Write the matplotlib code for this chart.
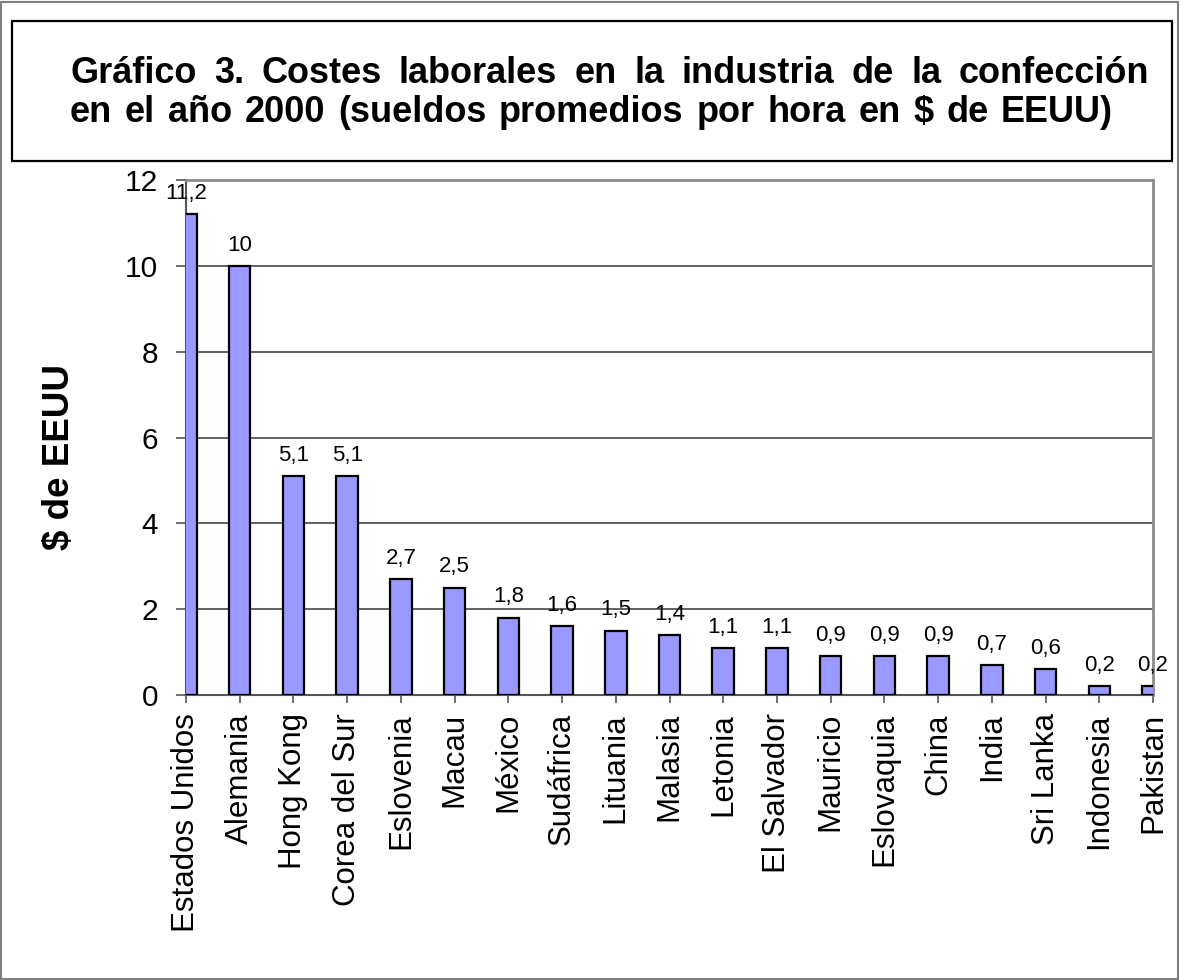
import matplotlib
matplotlib.use("Agg")
import matplotlib.pyplot as plt
from matplotlib.patches import Rectangle

plt.rcParams['font.family'] = ['Liberation Sans', 'DejaVu Sans']

# data
countries = ["Estados Unidos", "Alemania", "Hong Kong", "Corea del Sur", "Eslovenia",
             "Macau", "México", "Sudáfrica", "Lituania", "Malasia", "Letonia",
             "El Salvador", "Mauricio", "Eslovaquia", "China", "India", "Sri Lanka",
             "Indonesia", "Pakistan"]
wages = [11.2, 10, 5.1, 5.1, 2.7, 2.5, 1.8, 1.6, 1.5, 1.4, 1.1, 1.1,
         0.9, 0.9, 0.9, 0.7, 0.6, 0.2, 0.2]
yticks = [0, 2, 4, 6, 8, 10, 12]
title_line1 = "Gráfico 3. Costes laborales en la industria de la confección"
title_line2 = "en el año 2000 (sueldos promedios por hora en $ de EEUU)"
ylabel = "$ de EEUU"

W, H = 1180, 980
fig = plt.figure(figsize=(W / 100, H / 100), dpi=100)
ax = fig.add_axes([186 / W, 1 - 695 / H, (1153 - 186) / W, (695 - 180) / H])

x = list(range(len(countries)))
ax.bar(x, wages, width=0.4, color='#9999FF', edgecolor='black', linewidth=1.6, zorder=3)

for i, v in zip(x, wages):
    lab = f"{v:g}".replace('.', ',')
    ax.annotate(lab, (i, v), xytext=(0, 11), textcoords='offset points',
                ha='center', va='baseline', fontsize=16, annotation_clip=False, zorder=5)

ax.set_xlim(0, len(countries) - 1)
ax.set_ylim(0, 12)
ax.set_yticks(yticks)
ax.set_yticklabels([str(t) for t in yticks], fontsize=21.5)
ax.set_xticks(x)
ax.set_xticklabels(countries, rotation=90, fontsize=22.5)
ax.tick_params(axis='y', direction='out', length=7, width=1.2, color='#555555', pad=13)
ax.tick_params(axis='x', direction='out', length=6, width=1.2, color='#555555', pad=7)

ax.yaxis.grid(True, color='#555555', linewidth=1.3, zorder=0)
ax.set_axisbelow(True)
for side in ['top', 'right']:
    ax.spines[side].set_color('#8c8c8c')
    ax.spines[side].set_linewidth(2)
for side in ['left', 'bottom']:
    ax.spines[side].set_color('#555555')
    ax.spines[side].set_linewidth(1.5)

fig.text(60 / W, 1 - 457 / H, ylabel, rotation=90, ha='center', va='center',
         fontsize=26.5, fontweight='bold')

# outer frame and title box
fig.patches.append(Rectangle((1 / W, 1 / H), (W - 3) / W, (H - 3) / H, transform=fig.transFigure,
                             fill=False, edgecolor='#7f7f7f', linewidth=1.5))
fig.patches.append(Rectangle((12 / W, 1 - 161 / H), 1160 / W, 140 / H, transform=fig.transFigure,
                             fill=False, edgecolor='black', linewidth=1.6))

# justified title lines
renderer = fig.canvas.get_renderer()


def justify(line, x0, x1, base):
    words = line.split(' ')
    texts = [fig.text(0, 1 - base / H, w, fontsize=26, fontweight='bold', va='baseline', ha='left')
             for w in words]
    widths = [t.get_window_extent(renderer).width for t in texts]
    gap = (x1 - x0 - sum(widths)) / (len(words) - 1)
    pos = x0
    for t, w in zip(texts, widths):
        t.set_x(pos / W)
        pos += w + gap


justify(title_line1, 70, 1149, 83)
justify(title_line2, 70, 1113, 122)

fig.savefig("out.png", dpi=100)
